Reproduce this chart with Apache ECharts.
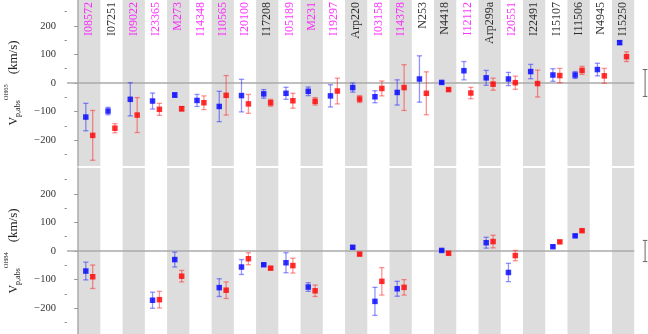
<!DOCTYPE html>
<html><head><meta charset="utf-8">
<script src="https://cdn.jsdelivr.net/npm/echarts@6/dist/echarts.min.js"></script>
<style>html,body{margin:0;padding:0;background:#fff}#c{width:648px;height:334px}</style>
</head><body><div id="c"></div>
<script>
const categories = ['I08572','I07251','I09022','I23365','M273','I14348','I10565','I20100','I17208','I05189','M231','I19297','Arp220','I03158','I14378','N253','N4418','I12112','Arp299a','I20551','I22491','I15107','I11506','N4945','I15250'];
const labelColors = ['#ff00ff','#000000','#ff00ff','#ff00ff','#ff00ff','#ff00ff','#ff00ff','#ff00ff','#000000','#ff00ff','#ff00ff','#ff00ff','#000000','#ff00ff','#ff00ff','#000000','#000000','#ff00ff','#000000','#ff00ff','#000000','#000000','#000000','#000000','#000000'];

const oh65Blue    = [-119, -98, -57, -63, -42, -61, -82, -44, -38, -36, -29, -45, -16, -48, -33, 14, 2, 43, 18, 14, 40, 28, 28, 47, 141];
const oh65BlueErr = [48, 13, 58, 28, 8, 21, 53, 57, 15, 21, 15, 39, 16, 21, 44, 81, 4, 32, 26, 23, 25, 22, 12, 22, 6];
const oh65Red     = [-183, -158, -112, -92, -90, -69, -43, -73, -69, -62, -64, -28, -56, -19, -16, -36, -23, -35, -4, 1, -2, 26, 44, 25, 92];
const oh65RedErr  = [87, 16, 61, 21, 8, 24, 69, 33, 12, 26, 13, 45, 12, 26, 80, 75, 4, 20, 21, 23, 47, 25, 14, 26, 17];

const oh84Blue    = [-70, null, null, -172, -30, null, -128, -56, -48, -41, -126, null, 13, -176, -132, null, 2, null, 29, -75, null, 15, 53, null, null];
const oh84BlueErr = [31, null, null, 28, 26, null, 31, 26, 4, 35, 15, null, 4, 49, 26, null, 4, null, 19, 32, null, 4, 4, null, null];
const oh84Red     = [-90, null, null, -170, -88, null, -137, -27, -60, -51, -139, null, -11, -106, -127, null, -8, null, 33, -16, null, 32, 71, null, null];
const oh84RedErr  = [41, null, null, 29, 20, null, 29, 21, 4, 26, 20, null, 4, 48, 27, null, 4, null, 22, 18, null, 4, 4, null, null];

const typicalErr = [47, 37];
const yTicks = [-200, -100, 0, 100, 200];
const yMinorTicks = [-250, -150, -50, 50, 150, 250];
const panelNames = ['OH65', 'OH84'];

const Y_MIN = -290, Y_MAX = 290, X_MIN = -0.5, X_MAX = 25.62;
const OFF = 0.155;
const FONT = 'Liberation Serif';

function pts(values, dx) {
  const out = [];
  values.forEach((v, i) => { if (v != null) out.push([i + 0.5 + dx, v]); });
  return out;
}
function errs(values, e, dx) {
  const out = [];
  values.forEach((v, i) => { if (v != null) out.push([i + 0.5 + dx, v, e[i]]); });
  return out;
}
function errRender(color, lw, hw) {
  return function (params, api) {
    const x = api.value(0), v = api.value(1), e = api.value(2);
    const t = api.coord([x, v + e]);
    const b = api.coord([x, v - e]);
    const st = { stroke: color, lineWidth: lw };
    return { type: 'group', children: [
      { type: 'line', shape: { x1: t[0], y1: t[1], x2: b[0], y2: b[1] }, style: st },
      { type: 'line', shape: { x1: t[0] - hw, y1: t[1], x2: t[0] + hw, y2: t[1] }, style: st },
      { type: 'line', shape: { x1: b[0] - hw, y1: b[1], x2: b[0] + hw, y2: b[1] }, style: st }
    ]};
  };
}
function bandRender(params, api) {
  const x0 = api.value(0);
  const p1 = api.coord([x0, Y_MAX]);
  const p2 = api.coord([x0 + 1, Y_MIN]);
  return { type: 'rect', shape: { x: p1[0], y: p1[1], width: p2[0] - p1[0], height: p2[1] - p1[1] }, style: { fill: '#dddddd' } };
}
const bandData = categories.map((c, i) => [i, 0]).filter(d => d[0] % 2 === 0);
const fmt = v => v < 0 ? '\u2212' + Math.abs(v) : String(v);

const grids = [
  { left: 67, right: 0, top: 0, height: 166, containLabel: false, outerBoundsMode: 'none' },
  { left: 67, right: 0, top: 168, height: 166, containLabel: false, outerBoundsMode: 'none' }
];
const xAxes = [0, 1].map(g => ({ type: 'value', gridIndex: g, min: X_MIN, max: X_MAX, show: false }));
const yAxes = [];
[0, 1].forEach(g => {
  yAxes.push({
    type: 'value', gridIndex: g, min: Y_MIN, max: Y_MAX, position: 'left',
    name: '{v|V}{sub|p,abs}{sup|' + panelNames[g] + '}{gap|}{u|(km/s)}',
    nameLocation: 'middle', nameGap: 41,
    nameTextStyle: {
      fontFamily: FONT, color: '#222',
      rich: {
        v: { fontFamily: FONT, fontSize: 12, color: '#222', lineHeight: 24 },
        sub: { fontFamily: FONT, fontSize: 8, color: '#222', padding: [7, 0, 0, 0] },
        sup: { fontFamily: FONT, fontSize: 6.5, color: '#222', padding: [0, 0, 16, 0] },
        gap: { width: 10 },
        u: { fontFamily: FONT, fontSize: 13, color: '#222', lineHeight: 24 }
      }
    },
    axisLine: { show: true, lineStyle: { color: '#aaaaaa', width: 1.5 } },
    axisTick: { show: true, length: 4, customValues: yTicks, lineStyle: { color: '#999999' } },
    axisLabel: { show: true, customValues: yTicks, formatter: fmt, margin: 11, fontFamily: FONT, fontSize: 10.5, color: '#333' },
    splitLine: { show: false }
  });
  yAxes.push({
    type: 'value', gridIndex: g, min: Y_MIN, max: Y_MAX, position: 'left',
    axisLine: { show: false },
    axisTick: { show: true, length: 2.5, customValues: yMinorTicks, lineStyle: { color: '#999999' } },
    axisLabel: { show: false },
    splitLine: { show: false }
  });
});

const panels = [
  { blue: oh65Blue, blueErr: oh65BlueErr, red: oh65Red, redErr: oh65RedErr },
  { blue: oh84Blue, blueErr: oh84BlueErr, red: oh84Red, redErr: oh84RedErr }
];
const series = [];
panels.forEach((p, g) => {
  const yi = g * 2;
  series.push({ type: 'custom', xAxisIndex: g, yAxisIndex: yi, z: 0, silent: true, renderItem: bandRender, data: bandData, clip: false });
  series.push({ type: 'line', xAxisIndex: g, yAxisIndex: yi, z: 1, silent: true, showSymbol: false, symbol: 'none',
    lineStyle: { color: '#aaaaaa', width: 1.6 }, data: [[X_MIN, 0], [categories.length, 0]] });
  series.push({ type: 'custom', xAxisIndex: g, yAxisIndex: yi, z: 2, silent: true, renderItem: errRender('rgba(40,40,255,0.5)', 1.3, 2.6), data: errs(p.blue, p.blueErr, -OFF) });
  series.push({ type: 'custom', xAxisIndex: g, yAxisIndex: yi, z: 2, silent: true, renderItem: errRender('rgba(255,40,40,0.5)', 1.3, 2.6), data: errs(p.red, p.redErr, OFF) });
  series.push({ type: 'scatter', xAxisIndex: g, yAxisIndex: yi, z: 3, silent: true, symbol: 'rect', symbolSize: 5.5,
    itemStyle: { color: '#0000ff' }, data: pts(p.blue, -OFF) });
  series.push({ type: 'scatter', xAxisIndex: g, yAxisIndex: yi, z: 3, silent: true, symbol: 'rect', symbolSize: 5.5,
    itemStyle: { color: '#ff0000' }, data: pts(p.red, OFF) });
  series.push({ type: 'custom', xAxisIndex: g, yAxisIndex: yi, z: 2, silent: true, renderItem: errRender('#666666', 1, 2.3),
    data: [[categories.length + 0.49, 0, typicalErr[g]]], clip: false });
});
series.push({
  type: 'scatter', xAxisIndex: 0, yAxisIndex: 0, z: 4, silent: true, symbolSize: 1,
  itemStyle: { color: 'rgba(0,0,0,0)' },
  label: { show: true, position: 'inside', rotate: 90, align: 'right', verticalAlign: 'middle',
    fontFamily: FONT, fontSize: 12, formatter: p => categories[p.dataIndex] },
  data: categories.map((c, i) => ({ value: [i + 0.5, 283], label: { color: labelColors[i] } }))
});

const chart = echarts.init(document.getElementById('c'), null, { renderer: 'canvas' });
chart.setOption({ animation: false, backgroundColor: '#ffffff', grid: grids, xAxis: xAxes, yAxis: yAxes, series: series });
</script></body></html>
